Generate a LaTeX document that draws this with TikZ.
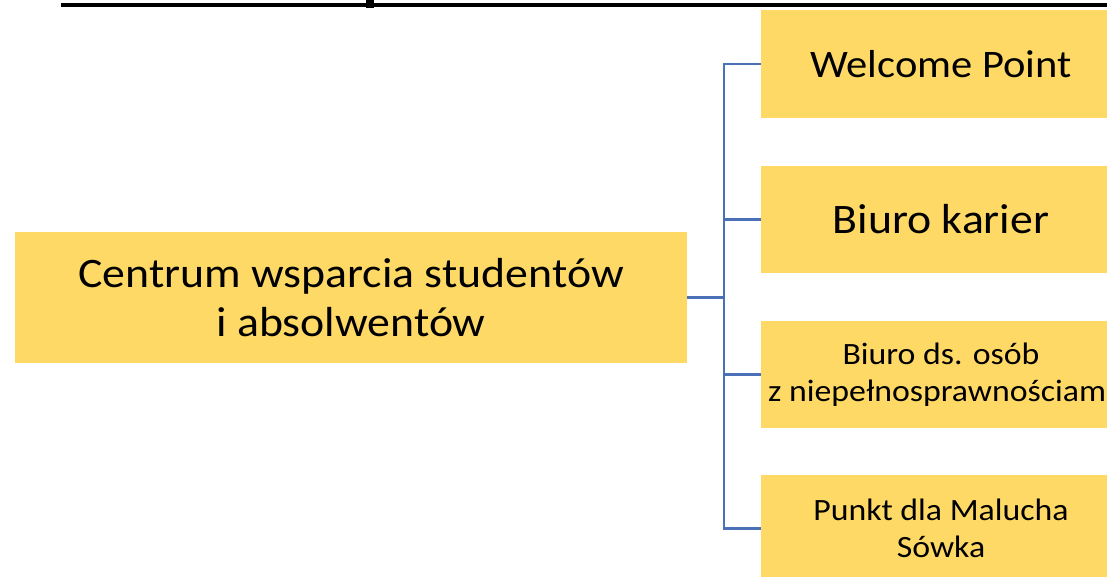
\documentclass[tikz,border=0pt]{standalone}
\usepackage{fontspec}
\setmainfont[FakeStretch=1.09]{Carlito}
\definecolor{boxyellow}{HTML}{FFD966}
\definecolor{linkblue}{HTML}{4A70B8}
\begin{document}
\begin{tikzpicture}[x=1pt,y=-1pt,
  box/.style={fill=boxyellow,draw=none,inner sep=0pt,align=center,text=black},
  leaf/.style={box,minimum width=360,minimum height=107},
  link/.style={draw=linkblue,line width=2.2pt}]
\useasboundingbox (0,0) rectangle (1107,577);
\clip (0,0) rectangle (1107,577);
% cut-off title underline
\fill[black] (61,3) rectangle (1107,7.5);
\fill[black] (366,0) rectangle (374,8);
\node[box,minimum width=672,minimum height=131,font=\fontsize{42}{49}\selectfont] (root) at (351,297.5) {Centrum wsparcia studentów\\i absolwentów};
\node[leaf,minimum height=108,font=\fontsize{39}{46}\selectfont] (b1) at (941,64) {Welcome Point};
\node[leaf,font=\fontsize{42}{49}\selectfont] (b2) at (941,219.5) {Biuro karier};
\node[leaf,font=\fontsize{31}{37.5}\selectfont] (b3) at (941,374.5) {Biuro ds. osób\\z niepełnosprawnościami};
\node[leaf,font=\fontsize{31}{37.5}\selectfont] (b4) at (941,528.5) {Punkt dla Malucha\\Sówka};
\coordinate (trunk) at (724,297.5);
\draw[link] (root.east) -- (trunk);
\draw[link] (trunk) |- (b1.west);
\draw[link] (trunk) |- (b2.west);
\draw[link] (trunk) |- (b3.west);
\draw[link] (trunk) |- (b4.west);
\end{tikzpicture}
\end{document}
